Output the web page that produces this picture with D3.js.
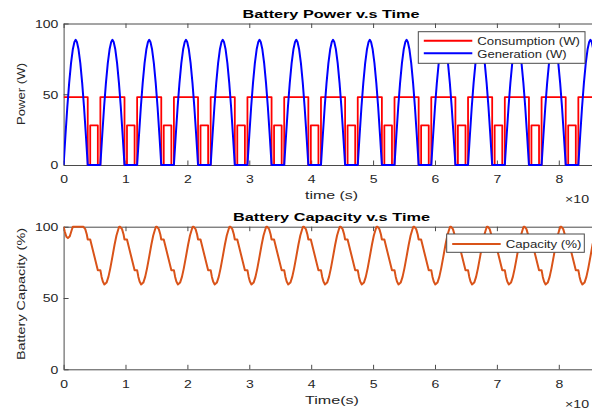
<!DOCTYPE html>
<html><head><meta charset="utf-8">
<script src="https://cdn.jsdelivr.net/npm/d3@7/dist/d3.min.js"></script>
<style>
body{margin:0;background:#fff}
svg{display:block}
text{font-family:"Liberation Sans",Arial,Helvetica,sans-serif}
</style>
</head><body>
<svg id="c" width="592" height="410"></svg>
<script>
// ---------- data (time in seconds) ----------
const xDomain = [0, 86400];
const xTickValues = [0, 10000, 20000, 30000, 40000, 50000, 60000, 70000, 80000];
const xTickLabels = ["0", "1", "2", "3", "4", "5", "6", "7", "8"];
const yTickValues = [0, 50, 100];
const yTickLabels = ["0", "50", "100"];

// start of each orbit (generation begins to rise)
const cycleStarts = [0, 5940, 11880, 17820, 23760, 29700, 35640, 41580, 47520, 53460, 59400, 65340, 71280, 77220, 83160];

// generation (W) within one orbit
const genPhase = [0, 300, 600, 900, 1200, 1500, 1750, 1950, 2150, 2400, 2700, 3000, 3300, 3600, 3900];
const genWatts = [0, 21, 41, 58, 72, 82, 87, 88.5, 87, 82, 72, 58, 41, 21, 0];

// consumption (W) within one orbit (step changes)
const consPhase = [0, 3900, 4300, 5530];
const consWatts = [48, 0, 28, 0];

// capacity (%) – first orbit and following orbits
const capFirstPhase = [0, 200, 450, 700, 1000, 1300, 1500, 3180, 3500, 3750, 3900, 4300, 5530];
const capFirstPct   = [100, 96.5, 93, 92, 93.3, 97.5, 100, 100, 98.3, 94.5, 91, 91, 69.5];
const capPhase = [0, 200, 400, 650, 1000, 1300, 1600, 1950, 2300, 2600, 2900, 3050, 3180, 3500, 3750, 3900, 4300, 5530];
const capPct   = [69.5, 64.8, 61.5, 59.5, 60.8, 64.8, 70.8, 79, 87.5, 93.8, 98.2, 100, 100, 98.3, 94.5, 91, 91, 69.5];

// ---------- build series ----------
function tile(phases, values, firstPhases, firstValues) {
  const pts = [];
  cycleStarts.forEach((s, i) => {
    const ph = (i === 0 && firstPhases) ? firstPhases : phases;
    const vs = (i === 0 && firstValues) ? firstValues : values;
    ph.forEach((p, j) => pts.push({t: s + p, v: vs[j]}));
  });
  return pts;
}
const genSeries = tile(genPhase, genWatts);
const consSeries = tile(consPhase, consWatts);
const capSeries = tile(capPhase, capPct, capFirstPhase, capFirstPct);

// ---------- layout ----------
const svg = d3.select("#c");
const L = 63.6, R = 598.4;
const panels = [
  {top: 23.5, bottom: 165},
  {top: 226.7, bottom: 369.3}
];
const axisCol = "#4a4a4a", textCol = "#262626";

const x = d3.scaleLinear().domain(xDomain).range([L, R]);

function fitText(sel, len) {
  sel.attr("textLength", len).attr("lengthAdjust", "spacingAndGlyphs");
}

function drawAxes(p, idx) {
  const y = d3.scaleLinear().domain([0, 100]).range([p.bottom, p.top]);
  const g = svg.append("g");
  const gb = g.append("g").attr("transform", `translate(0,${p.bottom})`)
    .call(d3.axisBottom(x).tickValues(xTickValues).tickFormat((d, i) => xTickLabels[i]).tickSizeInner(-4.5).tickSizeOuter(0));
  gb.selectAll("text").attr("y", idx === 0 ? 18 : 18.7).attr("dy", null)
    .attr("font-size", 10.5).attr("fill", textCol)
    .each(function() { fitText(d3.select(this), 7.8 * this.textContent.length); });
  g.append("g").attr("transform", `translate(0,${p.top})`)
    .call(d3.axisTop(x).tickValues(xTickValues).tickFormat("").tickSizeInner(-4.5).tickSizeOuter(0));
  const gl = g.append("g").attr("transform", `translate(${L},0)`)
    .call(d3.axisLeft(y).tickValues(yTickValues).tickFormat((d, i) => yTickLabels[i]).tickSizeInner(-5).tickSizeOuter(0).tickPadding(5.3));
  gl.selectAll("text").attr("font-size", 10.5).attr("fill", textCol).attr("dy", "0.36em")
    .each(function() { fitText(d3.select(this), 7.8 * this.textContent.length); });
  g.append("g").attr("transform", `translate(${R},0)`)
    .call(d3.axisRight(y).tickValues(yTickValues).tickFormat("").tickSizeInner(-5).tickSizeOuter(0));
  g.selectAll(".domain").attr("stroke", axisCol).attr("stroke-width", 1);
  g.selectAll(".tick line").attr("stroke", axisCol).attr("stroke-width", 1);
  g.selectAll("text").attr("font-family", null);
  return y;
}

const y1 = drawAxes(panels[0], 0);
const y2 = drawAxes(panels[1], 1);

const defs = svg.append("defs");
panels.forEach((p, i) => {
  defs.append("clipPath").attr("id", "clip" + i).append("rect")
    .attr("x", L).attr("y", p.top - 4).attr("width", R - L).attr("height", p.bottom - p.top + 8);
});

// ---------- lines ----------
const lineStep = d3.line().x(d => x(d.t)).y(d => y1(d.v)).curve(d3.curveStepAfter);
const lineGen = d3.line().x(d => x(d.t)).y(d => y1(d.v));
const lineCap = d3.line().x(d => x(d.t)).y(d => y2(d.v));

const g1 = svg.append("g").attr("clip-path", "url(#clip0)");
g1.append("path").datum(consSeries).attr("d", lineStep)
  .attr("fill", "none").attr("stroke", "#ff0000").attr("stroke-width", 1.8).attr("stroke-linejoin", "round");
g1.append("path").datum(genSeries).attr("d", lineGen)
  .attr("fill", "none").attr("stroke", "#0000ff").attr("stroke-width", 2).attr("stroke-linejoin", "round");

const g2 = svg.append("g").attr("clip-path", "url(#clip1)");
g2.append("path").datum(capSeries).attr("d", lineCap)
  .attr("fill", "none").attr("stroke", "#d95319").attr("stroke-width", 2).attr("stroke-linejoin", "round");

// ---------- titles & labels ----------
function label(txt, xPos, yPos, size, len, opts = {}) {
  const t = svg.append("text").text(txt)
    .attr("font-size", size).attr("fill", opts.fill || textCol)
    .attr("text-anchor", opts.anchor || "middle");
  if (opts.rotate) {
    t.attr("transform", `translate(${xPos},${yPos}) rotate(-90)`);
  } else {
    t.attr("x", xPos).attr("y", yPos);
  }
  if (opts.bold) t.attr("font-weight", "bold");
  if (len) fitText(t, len);
  return t;
}
label("Battery Power v.s Time", 331, 18.3, 11.6, 177, {bold: true, fill: "#000"});
label("Battery Capacity v.s Time", 331.5, 221, 11.6, 197, {bold: true, fill: "#000"});
label("time (s)", 331.5, 199, 11.6, 53);
label("Time(s)", 332, 404.3, 11.6, 54);
label("Power (W)", 24.5, 94, 11.6, 62, {rotate: true});
label("Battery Capacity (%)", 24.5, 294, 11.6, 132, {rotate: true});
label("\u00d710", 565, 202.7, 11.6, 24, {anchor: "start"});
label("\u00d710", 565, 408, 11.6, 24, {anchor: "start"});

// ---------- legends ----------
function legend(box, items) {
  svg.append("rect").attr("x", box.x).attr("y", box.y).attr("width", box.w).attr("height", box.h)
    .attr("fill", "#fff").attr("stroke", axisCol).attr("stroke-width", 1);
  items.forEach(it => {
    svg.append("line").attr("x1", box.x + 5.5).attr("x2", box.x + 54).attr("y1", it.y).attr("y2", it.y)
      .attr("stroke", it.color).attr("stroke-width", 2);
    label(it.name, box.x + 59, it.y + 4.3, 11.5, it.len, {anchor: "start"});
  });
}
legend({x: 418.3, y: 31.7, w: 166.7, h: 31.6}, [
  {name: "Consumption (W)", color: "#ff0000", y: 40.7, len: 102.7},
  {name: "Generation (W)", color: "#0000ff", y: 53.3, len: 89.3}
]);
legend({x: 446.7, y: 234, w: 137.6, h: 18.3}, [
  {name: "Capacity (%)", color: "#d95319", y: 244, len: 75.7}
]);
</script>
</body></html>
